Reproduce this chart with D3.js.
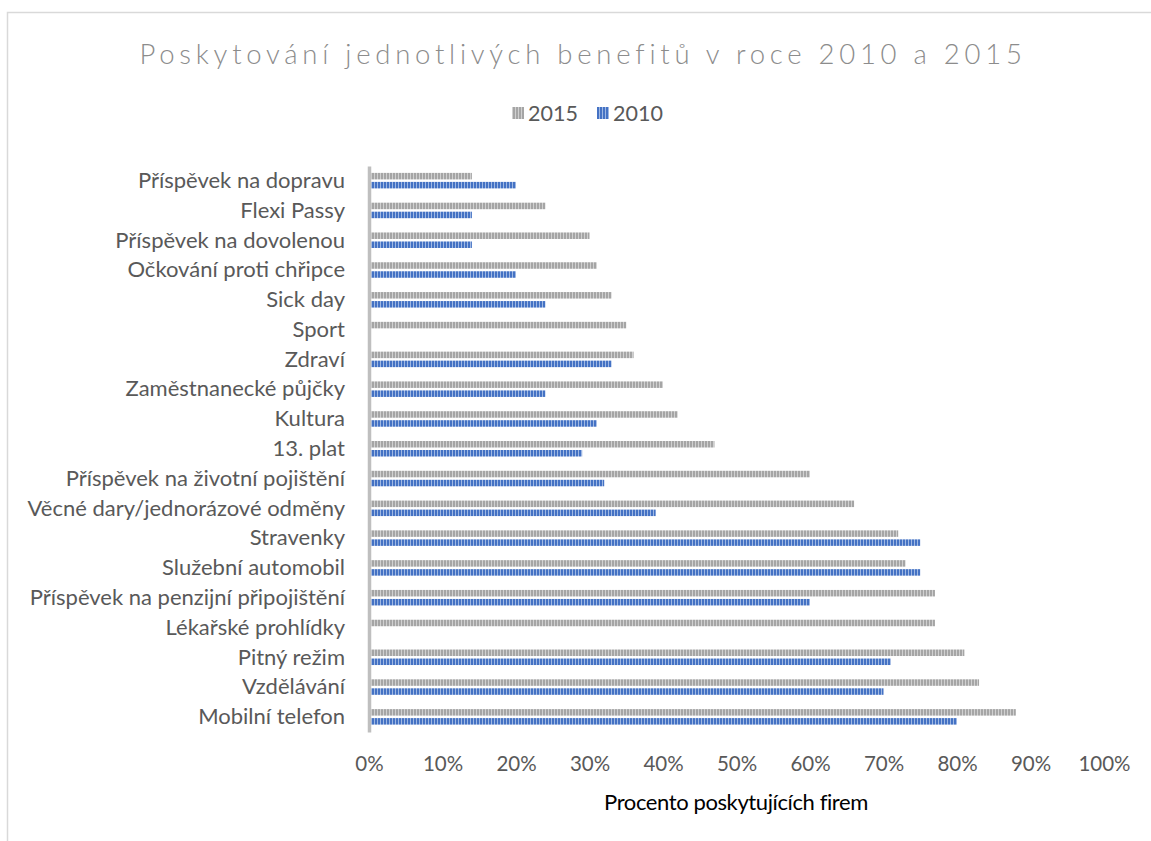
<!DOCTYPE html>
<html>
<head>
<meta charset="utf-8">
<script src="https://cdn.jsdelivr.net/npm/d3@7"></script>
<style>
  html, body { margin: 0; padding: 0; background: #ffffff; }
  svg { display: block; }
  text { font-family: Lato, "Open Sans", sans-serif; }
</style>
</head>
<body>
<svg id="chart" width="1151" height="841"></svg>
<script>
// Benefit categories, listed top to bottom
const categories = [
  "Příspěvek na dopravu", "Flexi Passy", "Příspěvek na dovolenou",
  "Očkování proti chřipce", "Sick day", "Sport", "Zdraví",
  "Zaměstnanecké půjčky", "Kultura", "13. plat",
  "Příspěvek na životní pojištění", "Věcné dary/jednorázové odměny",
  "Stravenky", "Služební automobil", "Příspěvek na penzijní připojištění",
  "Lékařské prohlídky", "Pitný režim", "Vzdělávání", "Mobilní telefon"
];
// Share of firms providing each benefit (%)
const values2015 = [14, 24, 30, 31, 33, 35, 36, 40, 42, 47, 60, 66, 72, 73, 77, 77, 81, 83, 88];
const values2010 = [20, 14, 14, 20, 24, null, 33, 24, 31, 29, 32, 39, 75, 75, 60, null, 71, 70, 80];
const seriesNames = ["2015", "2010"];
const xTicks = [0, 0.1, 0.2, 0.3, 0.4, 0.5, 0.6, 0.7, 0.8, 0.9, 1.0];

const svg = d3.select("#chart");

// Striped fills for the two series
const defs = svg.append("defs");
const fills = {
  "2015": { dark: "#a5a5a5", light: "#d0d0d0" },
  "2010": { dark: "#4472c4", light: "#9fb8e3" }
};
seriesNames.forEach(name => {
  const p = defs.append("pattern")
    .attr("id", "stripe" + name)
    .attr("patternUnits", "userSpaceOnUse")
    .attr("width", 3).attr("height", 10);
  p.append("rect").attr("width", 3).attr("height", 10).attr("fill", fills[name].light);
  p.append("rect").attr("width", 2).attr("height", 10).attr("fill", fills[name].dark);
});

// Chart frame
svg.append("path")
  .attr("d", "M7.5,841 V12.5 H1151")
  .attr("fill", "none")
  .attr("stroke", "#d9d9d9")
  .attr("stroke-width", 1.5);

// Title
svg.append("text")
  .attr("x", 583).attr("y", 64)
  .attr("text-anchor", "middle")
  .attr("fill", "#8c8c8c")
  .attr("font-size", 27.5)
  .attr("font-weight", 300)
  .attr("letter-spacing", 4.75)
  .text("Poskytování jednotlivých benefitů v roce 2010 a 2015");

// Legend
const legend = svg.append("g");
const legendItems = [
  { name: "2015", x: 512 },
  { name: "2010", x: 597 }
];
legendItems.forEach(d => {
  legend.append("rect")
    .attr("x", d.x).attr("y", 107)
    .attr("width", 12).attr("height", 12)
    .attr("fill", "url(#stripe" + d.name + ")");
  legend.append("text")
    .attr("x", d.x + 16).attr("y", 121)
    .attr("fill", "#595959")
    .attr("font-size", 21.5)
    .text(d.name);
});

// Scales
const x = d3.scaleLinear().domain([0, 1]).range([369, 1104]);
const y = d3.scaleBand().domain(categories).range([166, 732]);
const inner = d3.scaleBand().domain(seriesNames).range([-8, 7.5]).paddingInner(0.278);

const rows = categories.map((c, i) => ({
  category: c,
  "2015": values2015[i],
  "2010": values2010[i]
}));

// Bars
const barsG = svg.append("g");
seriesNames.forEach(name => {
  barsG.selectAll(null)
    .data(rows.filter(r => r[name] != null))
    .join("rect")
    .attr("x", x(0))
    .attr("y", r => y(r.category) + y.bandwidth() / 2 + inner(name))
    .attr("width", r => x(r[name] / 100) - x(0))
    .attr("height", inner.bandwidth())
    .attr("fill", "url(#stripe" + name + ")");
});

// Category axis
const yAxis = svg.append("g")
  .attr("transform", `translate(${x(0)},0)`)
  .call(d3.axisLeft(y).tickSize(0).tickPadding(24));
yAxis.select(".domain")
  .attr("stroke", "#bfbfbf")
  .attr("stroke-width", 3.5);
yAxis.selectAll("text")
  .attr("fill", "#595959")
  .attr("font-size", 22)
  .attr("font-family", "Lato, 'Open Sans', sans-serif");

// Value axis (labels only)
const xAxis = svg.append("g")
  .attr("transform", "translate(0,751)")
  .call(d3.axisBottom(x).tickValues(xTicks).tickFormat(d3.format(".0%")).tickSize(0).tickPadding(5));
xAxis.select(".domain").remove();
xAxis.selectAll("text")
  .attr("fill", "#595959")
  .attr("font-size", 20.5)
  .attr("font-family", "Lato, 'Open Sans', sans-serif");

// Axis title
svg.append("text")
  .attr("x", 736).attr("y", 810)
  .attr("text-anchor", "middle")
  .attr("fill", "#000000")
  .attr("font-size", 22)
  .attr("letter-spacing", -0.4)
  .text("Procento poskytujících firem");
</script>
</body>
</html>
